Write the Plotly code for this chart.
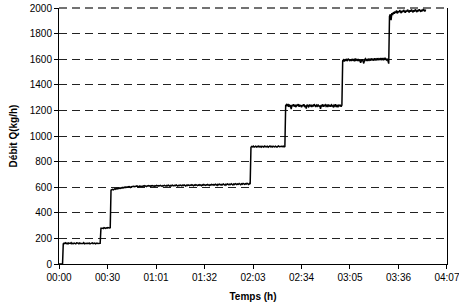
import numpy as np
import plotly.graph_objects as go

# Segment start times (minutes) and end of record
seg_starts = [0.0, 2.7, 26.7, 33.1, 122.2, 144.3, 180.6, 210.4]
t_end = 233.4

flow_0 = [0, 0, 0, 0, 0, 0]
flow_160 = [158, 163, 160, 165, 159, 162, 157, 164, 161, 160, 166, 158, 162, 159, 163, 161,
            157, 165, 160, 162, 158, 164, 161, 159, 163, 160, 166, 158, 161, 163, 159, 162,
            160, 164, 157, 162, 161, 165, 159, 160, 163, 158, 162, 164, 160, 159, 163, 161]
flow_280 = [279, 283, 280, 277, 284, 281, 278, 282, 280, 285, 279, 281, 283]
flow_600 = [576, 580, 583, 579, 585, 588, 584, 590, 587, 592,
            589, 594, 591, 596, 593, 598, 595, 600, 597, 602,
            599, 603, 600, 605, 602, 598, 604, 606, 603, 607,
            604, 608, 605, 610, 606, 603, 609, 607, 611, 608,
            606, 610, 607, 612, 609, 605, 611, 608, 613, 610,
            607, 612, 609, 613, 610, 606, 612, 609, 614, 611,
            608, 613, 610, 614, 611, 607, 613, 610, 615, 612,
            609, 614, 611, 616, 612, 608, 614, 611, 616, 613,
            610, 615, 612, 617, 613, 609, 615, 612, 617, 614,
            611, 616, 613, 618, 614, 610, 616, 613, 618, 615,
            612, 617, 614, 619, 615, 611, 617, 614, 620, 616,
            613, 618, 615, 620, 616, 612, 619, 615, 621, 617,
            614, 619, 616, 622, 617, 613, 620, 616, 622, 618,
            616, 621, 617, 623, 619, 614, 622, 618, 624, 620,
            617, 622, 619, 625, 620, 615, 623, 619, 626, 621,
            619, 624, 620, 627, 622, 617, 625, 621, 628, 623,
            621, 626, 622, 629, 624, 619, 627, 623, 630, 625,
            622, 628, 624, 631, 626, 621, 629, 625]
flow_920 = [912, 918, 915, 921, 913, 917, 920, 914, 919, 916,
            922, 915, 918, 913, 920, 917, 914, 921, 916, 919,
            915, 920, 913, 918, 922, 916, 919, 914, 921, 917,
            915, 920, 918, 913, 919, 922, 916, 918, 914, 920,
            917, 921, 915, 918]
flow_1230 = [1238, 1245, 1232, 1250, 1228, 1241, 1236, 1210, 1243, 1233,
             1247, 1230, 1239, 1226, 1244, 1235, 1249, 1229, 1240, 1237,
             1225, 1242, 1233, 1248, 1231, 1238, 1215, 1244, 1236, 1229,
             1246, 1234, 1240, 1227, 1243, 1231, 1249, 1236, 1228, 1241,
             1233, 1245, 1230, 1239, 1212, 1242, 1235, 1247, 1229, 1238,
             1244, 1232, 1240, 1226, 1246, 1234, 1239, 1230, 1243, 1236,
             1228, 1241, 1233, 1247, 1231, 1238, 1225, 1244, 1236, 1240,
             1229, 1242]
flow_1600 = [1588, 1595, 1583, 1600, 1591, 1597, 1585, 1603, 1594, 1589,
             1599, 1586, 1602, 1593, 1597, 1584, 1605, 1592, 1598, 1587,
             1601, 1590, 1596, 1572, 1588, 1599, 1585, 1567, 1594, 1603,
             1591, 1598, 1586, 1604, 1593, 1600, 1589, 1606, 1595, 1599,
             1590, 1607, 1596, 1602, 1591, 1608, 1597, 1603, 1593, 1609,
             1598, 1604, 1592, 1610, 1599, 1605, 1594, 1600, 1588, 1565]
flow_1970 = [1935, 1950, 1905, 1960, 1945, 1968, 1955, 1972, 1962, 1980,
             1958, 1975, 1966, 1983, 1970, 1960, 1978, 1968, 1985, 1972,
             1963, 1980, 1970, 1987, 1975, 1965, 1982, 1971, 1988, 1976,
             1966, 1983, 1972, 1989, 1977, 1968, 1985, 1974, 1990, 1979,
             1970, 1986, 1975, 1992, 1980, 1973, 1988]

segments = [flow_0, flow_160, flow_280, flow_600, flow_920, flow_1230, flow_1600, flow_1970]

x_tick_labels = ["00:00", "00:30", "01:01", "01:32", "02:03", "02:34", "03:05", "03:36", "04:07"]
x_max = 247.0  # minutes (04:07)
y_ticks = [0, 200, 400, 600, 800, 1000, 1200, 1400, 1600, 1800, 2000]

ends = seg_starts[1:] + [t_end]
t_all, q_all = [], []
for i, (s, e, vals) in enumerate(zip(seg_starts, ends, segments)):
    last = i == len(segments) - 1
    t_all.extend(np.linspace(s, e, len(vals), endpoint=last).tolist())
    q_all.extend(vals)

tick_pos = np.linspace(0, x_max, len(x_tick_labels))

fig = go.Figure()
fig.add_trace(go.Scatter(x=t_all, y=q_all, mode="lines",
                         line=dict(color="black", width=1.5), showlegend=False))

font = "Liberation Sans, Arial, sans-serif"
fig.update_layout(
    width=459, height=308,
    margin=dict(l=59, r=12, t=8, b=44),
    paper_bgcolor="white", plot_bgcolor="white",
    font=dict(family=font, size=10, color="black"),
    xaxis=dict(range=[-0.01, x_max + 0.01], tickvals=tick_pos, ticktext=x_tick_labels,
               showgrid=False, zeroline=False, showline=True, linecolor="black",
               linewidth=1, ticks="outside", ticklen=4, tickcolor="black",
               ticklabeloverflow="allow", automargin=False,
               title=dict(text="<b>Temps (h)</b>", font=dict(size=10), standoff=10)),
    yaxis=dict(range=[0, 2000], tickvals=y_ticks, showgrid=True,
               gridcolor="#222", griddash="8px,5px", gridwidth=1,
               zeroline=False, showline=True, linecolor="black", linewidth=1,
               mirror=True, ticks="outside", ticklen=4, tickcolor="black",
               automargin=False,
               title=dict(text="<b>Débit Q(kg/h)</b>", font=dict(size=10), standoff=10)),
    shapes=[dict(type="line", xref="paper", yref="paper", x0=0, x1=1, y0=1, y1=1,
                 line=dict(color="#444", width=1.5, dash="8px,5px"))],
)
fig.write_html("out.html", config={"displayModeBar": False},
               post_script="document.body.style.margin='0';document.body.style.overflow='hidden';")
